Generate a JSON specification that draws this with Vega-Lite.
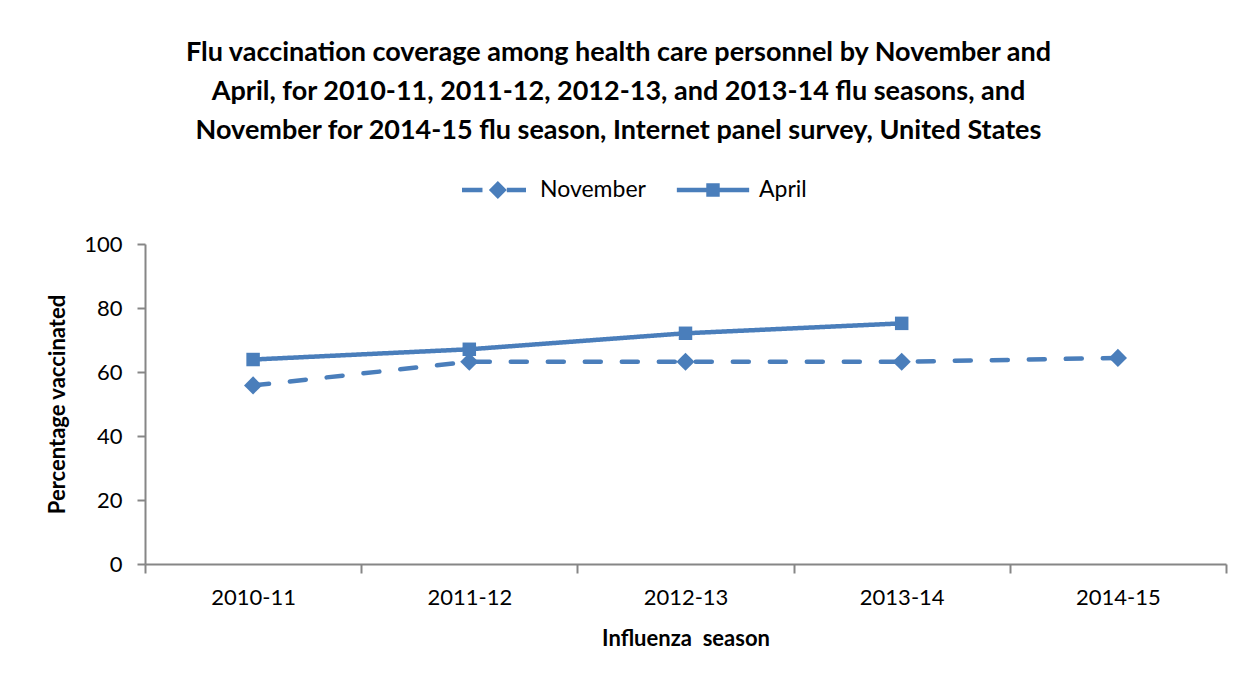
{
  "$schema": "https://vega.github.io/schema/vega-lite/v6.json",
  "autosize": "none",
  "padding": {"left": 145, "top": 244, "right": 13, "bottom": 119},
  "width": 1081,
  "height": 320,
  "background": "white",
  "title": {
    "text": [
      "Flu vaccination coverage among health care personnel by November and",
      "April, for 2010-11, 2011-12, 2012-13, and 2013-14 flu seasons, and",
      "November for 2014-15 flu season, Internet panel survey, United States"
    ],
    "font": "Lato",
    "fontSize": 27,
    "fontWeight": "bold",
    "color": "#000000",
    "lineHeight": 39,
    "anchor": "middle",
    "frame": "group",
    "dx": -67,
    "offset": 13
  },
  "data": {
    "values": [
      {"season": "2010-11", "series": "November", "pct": 55.8},
      {"season": "2011-12", "series": "November", "pct": 63.2},
      {"season": "2012-13", "series": "November", "pct": 63.2},
      {"season": "2013-14", "series": "November", "pct": 63.2},
      {"season": "2014-15", "series": "November", "pct": 64.4},
      {"season": "2010-11", "series": "April", "pct": 63.9},
      {"season": "2011-12", "series": "April", "pct": 67.1},
      {"season": "2012-13", "series": "April", "pct": 72.1},
      {"season": "2013-14", "series": "April", "pct": 75.2}
    ]
  },
  "encoding": {
    "x": {
      "field": "season",
      "type": "ordinal",
      "sort": null,
      "scale": {"paddingInner": 0, "paddingOuter": 0},
      "axis": {
        "title": "Influenza\u00a0 season",
        "labelAngle": 0,
        "tickBand": "extent",
        "tickSize": 9,
        "labelPadding": 14,
        "titlePadding": 20
      }
    },
    "y": {
      "field": "pct",
      "type": "quantitative",
      "scale": {"domain": [0, 100], "nice": false},
      "axis": {
        "title": "Percentage vaccinated",
        "values": [0, 20, 40, 60, 80, 100],
        "tickSize": 8,
        "labelPadding": 15,
        "titlePadding": 14,
        "grid": false
      }
    }
  },
  "layer": [
    {
      "mark": {"type": "line", "color": "#4a7ebb", "strokeWidth": 4.5, "strokeCap": "round"},
      "encoding": {
        "strokeDash": {
          "field": "series",
          "type": "nominal",
          "scale": {"domain": ["November", "April"], "range": [[16, 21], [1, 0]]},
          "legend": null
        }
      }
    },
    {
      "mark": {"type": "point", "filled": true, "color": "#4a7ebb", "opacity": 1},
      "encoding": {
        "shape": {
          "field": "series",
          "type": "nominal",
          "scale": {"domain": ["November", "April"], "range": ["diamond", "square"]},
          "legend": null
        },
        "size": {
          "field": "series",
          "type": "nominal",
          "scale": {"domain": ["November", "April"], "range": [330, 182]},
          "legend": null
        }
      }
    },
    {
      "mark": {"type": "point", "filled": true, "color": "#4a7ebb", "opacity": 0},
      "encoding": {
        "shape": {
          "field": "series",
          "type": "nominal",
          "title": null,
          "scale": {
            "domain": ["November", "April"],
            "range": [
              "M-1,-0.07H-0.36V0.07H-1Z M-0.16,0L0.12,-0.28L0.4,0L0.12,0.28Z M0.4,-0.07H1V0.07H0.4Z",
              "M-1.13,-0.07H1.13V0.07H-1.13Z M-0.21,-0.21H0.21V0.21H-0.21Z"
            ]
          },
          "legend": {
            "orient": "none",
            "direction": "horizontal",
            "legendX": 317,
            "legendY": -86,
            "symbolSize": 4096,
            "symbolOpacity": 1,
            "symbolFillColor": "#4a7ebb",
            "symbolStrokeWidth": 0,
            "labelOffset": 14,
            "columnPadding": 30,
            "labelFont": "Lato",
            "labelFontSize": 23,
            "labelColor": "#000000"
          }
        }
      }
    }
  ],
  "resolve": {"scale": {"shape": "independent"}, "legend": {"shape": "independent"}},
  "config": {
    "view": {"stroke": null},
    "axis": {
      "domainColor": "#868686",
      "domainWidth": 2,
      "tickColor": "#868686",
      "tickWidth": 2,
      "labelFont": "Lato",
      "labelFontSize": 22,
      "labelColor": "#000000",
      "titleFont": "Lato",
      "titleFontSize": 22,
      "titleFontWeight": "bold",
      "titleColor": "#000000"
    }
  }
}
